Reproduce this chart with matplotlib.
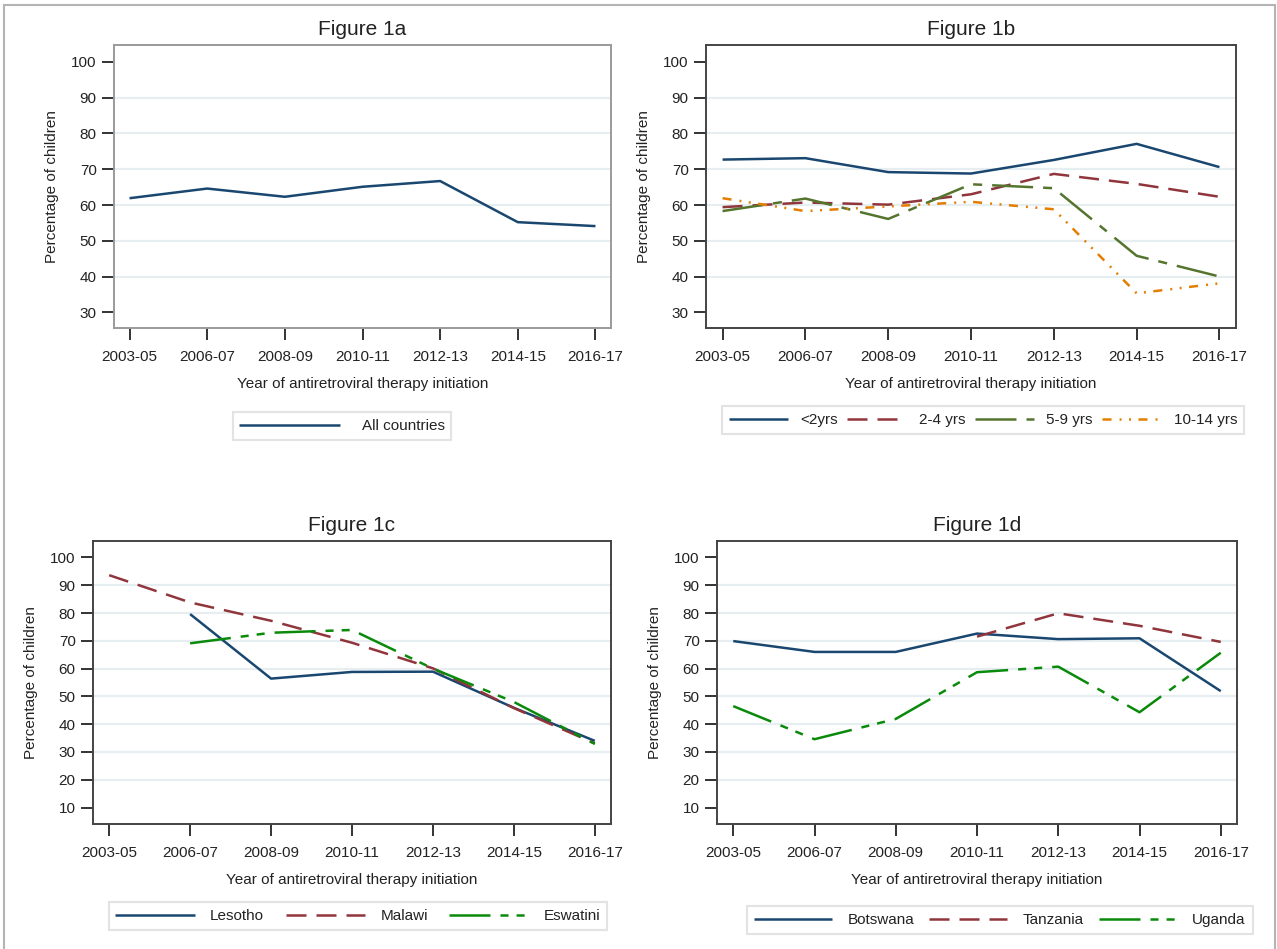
import numpy as np
import matplotlib
matplotlib.use("Agg")
import matplotlib.pyplot as plt
from matplotlib.patches import Rectangle

plt.rcParams['font.family'] = ['Liberation Sans', 'DejaVu Sans']
plt.rcParams['lines.scale_dashes'] = False

# ---- data -------------------------------------------------------------
periods = ["2003-05", "2006-07", "2008-09", "2010-11", "2012-13", "2014-15", "2016-17"]
nan = np.nan

all_countries = [61.9, 64.6, 62.3, 65.1, 66.7, 55.2, 54.1]

age_lt2 = [72.7, 73.1, 69.2, 68.8, 72.6, 77.1, 70.6]
age_2_4 = [59.4, 60.7, 60.1, 63.0, 68.7, 65.9, 62.3]
age_5_9 = [58.3, 61.8, 56.1, 65.8, 64.7, 45.8, 40.0]
age_10_14 = [61.9, 58.3, 59.6, 60.9, 58.8, 35.3, 38.1]

lesotho = [nan, 79.6, 56.4, 58.8, 58.9, 45.9, 34.0]
malawi = [93.6, 83.8, 77.2, 69.3, 60.1, 45.8, 33.1]
eswatini = [nan, 69.1, 72.9, 73.9, 60.0, 48.0, 32.9]

botswana = [69.9, 66.0, 66.0, 72.6, 70.6, 70.9, 51.9]
tanzania = [nan, nan, nan, 71.5, 79.9, 75.4, 69.6]
uganda = [46.5, 34.6, 41.9, 58.7, 60.7, 44.3, 65.7]

# ---- styles -----------------------------------------------------------
NAVY = '#1a476f'
MAROON = '#90353b'
OLIVE = '#55752f'
ORANGE = '#e37e00'
GREEN = '#0a8a0a'
TEXT = '#222222'

SOLID = '-'
LONGDASH = (0, (14.4, 7.2))
LONG_SHORT = (0, (29.5, 7.2, 6.5, 7.2))
LONG_SHORT_SHORT = (0, (29.5, 7.2, 5.8, 5.8, 5.8, 7.2))
DASH_DOT_DOT = (0, (6.5, 5.8, 1.4, 5.4, 1.4, 5.4))
LW = 1.8

W, H = 1277, 949
fig = plt.figure(figsize=(W / 100, H / 100), dpi=100)
fig.patch.set_facecolor('white')

# outer frame around the whole graphic
fig.add_artist(Rectangle((4 / W, -0.05), (1275 - 4) / W, (949 - 5) / H + 0.05,
                         transform=fig.transFigure, fill=False,
                         edgecolor='#b4b4b4', lw=1.5))


def px_axes(left, top, right, bottom):
    return fig.add_axes([left / W, 1 - bottom / H, (right - left) / W, (bottom - top) / H])


def setup(ax, title, yticks, ylim, frame_color):
    x = np.arange(len(periods))
    ax.set_xlim(-0.2, 6.2)
    ax.set_xticks(x)
    ax.set_xticklabels(periods)
    ax.set_yticks(yticks)
    ax.set_ylim(*ylim)
    for v in yticks[1:-1]:
        ax.axhline(v, color='#e6eef1', lw=1.6, zorder=0)
    ax.tick_params(direction='out', length=8.5, width=1.4, color='#333333',
                   labelsize=11, labelcolor=TEXT)
    ax.tick_params(axis='x', pad=7)
    ax.tick_params(axis='y', pad=4)
    for s in ax.spines.values():
        s.set_color(frame_color)
        s.set_linewidth(1.4)
    ax.set_title(title, fontsize=15, pad=7, color=TEXT)
    ax.set_xlabel('Year of antiretroviral therapy initiation', fontsize=11,
                  labelpad=10, color=TEXT)
    ax.set_ylabel('Percentage of children', fontsize=11, labelpad=9, color=TEXT)
    return x


def draw(ax, x, series):
    handles = []
    for vals, label, color, ls in series:
        ln, = ax.plot(x, vals, color=color, lw=LW, linestyle=ls, label=label,
                      solid_capstyle='butt', dash_capstyle='butt')
        handles.append(ln)
    return handles


def legend(ax, handles, cx, cy, handlelength, textpad, colspace):
    leg = ax.legend(handles=handles, loc='center',
                    bbox_to_anchor=(cx / W, 1 - cy / H),
                    bbox_transform=fig.transFigure, ncol=len(handles),
                    fontsize=11, handlelength=handlelength,
                    handletextpad=textpad, columnspacing=colspace,
                    frameon=True, fancybox=False, borderpad=0.45,
                    borderaxespad=0)
    fr = leg.get_frame()
    fr.set_edgecolor('#dddddd')
    fr.set_linewidth(1.5)
    for t in leg.get_texts():
        t.set_color(TEXT)
    return leg


# ---- Figure 1a --------------------------------------------------------
axa = px_axes(114, 45, 611, 328)
xa = setup(axa, 'Figure 1a', [30, 40, 50, 60, 70, 80, 90, 100], (25.6, 104.75), '#9a9a9a')
ha = draw(axa, xa, [(all_countries, 'All countries', NAVY, SOLID)])
legend(axa, ha, 342, 426, 6.6, 1.4, 1.0)

# ---- Figure 1b --------------------------------------------------------
axb = px_axes(706, 45, 1236, 328)
xb = setup(axb, 'Figure 1b', [30, 40, 50, 60, 70, 80, 90, 100], (25.6, 104.75), '#444444')
hb = draw(axb, xb, [
    (age_lt2, '<2yrs', NAVY, SOLID),
    (age_2_4, '2-4 yrs', MAROON, LONGDASH),
    (age_5_9, '5-9 yrs', OLIVE, LONG_SHORT),
    (age_10_14, '10-14 yrs', ORANGE, DASH_DOT_DOT),
])
legend(axb, hb, 983, 420, 3.9, 0.8, 0.6)

# ---- Figure 1c --------------------------------------------------------
axc = px_axes(93, 541, 611, 824)
xc = setup(axc, 'Figure 1c', [10, 20, 30, 40, 50, 60, 70, 80, 90, 100], (4.1, 105.9), '#444444')
hc = draw(axc, xc, [
    (lesotho, 'Lesotho', NAVY, SOLID),
    (malawi, 'Malawi', MAROON, LONGDASH),
    (eswatini, 'Eswatini', GREEN, LONG_SHORT_SHORT),
])
legend(axc, hc, 358, 916, 5.2, 1.0, 1.4)

# ---- Figure 1d --------------------------------------------------------
axd = px_axes(717, 541, 1237, 824)
xd = setup(axd, 'Figure 1d', [10, 20, 30, 40, 50, 60, 70, 80, 90, 100], (4.1, 105.9), '#444444')
hd = draw(axd, xd, [
    (botswana, 'Botswana', NAVY, SOLID),
    (tanzania, 'Tanzania', MAROON, LONGDASH),
    (uganda, 'Uganda', GREEN, LONG_SHORT_SHORT),
])
legend(axd, hd, 1000, 920, 5.1, 1.0, 1.0)

fig.savefig('out.png', dpi=100, facecolor='white')
